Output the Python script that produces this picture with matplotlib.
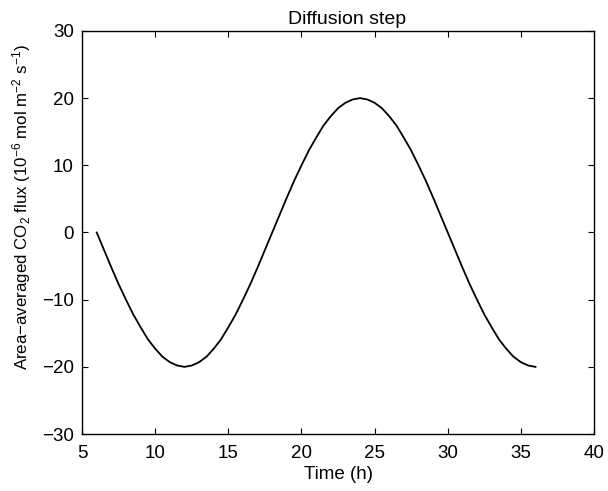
import matplotlib
matplotlib.use('Agg')
import matplotlib.pyplot as plt

# values, every half hour from 6 h to 36 h
time_h = [6 + 0.5 * i for i in range(61)]
flux = [0.0, -2.6, -5.2, -7.7, -10.0, -12.2, -14.1, -15.9, -17.3, -18.5, -19.3, -19.8,
        -20.0, -19.8, -19.3, -18.5, -17.3, -15.9, -14.1, -12.2, -10.0, -7.7, -5.2, -2.6,
        0.0, 2.6, 5.2, 7.7, 10.0, 12.2, 14.1, 15.9, 17.3, 18.5, 19.3, 19.8,
        20.0, 19.8, 19.3, 18.5, 17.3, 15.9, 14.1, 12.2, 10.0, 7.7, 5.2, 2.6,
        0.0, -2.6, -5.2, -7.7, -10.0, -12.2, -14.1, -15.9, -17.3, -18.5, -19.3, -19.8,
        -20.0]

x_ticks = [5, 10, 15, 20, 25, 30, 35, 40]
y_ticks = [-30, -20, -10, 0, 10, 20, 30]

plt.rcParams['font.family'] = ['Liberation Sans', 'DejaVu Sans']
plt.rcParams['font.size'] = 13.5
plt.rcParams['mathtext.fontset'] = 'custom'
plt.rcParams['mathtext.rm'] = 'Liberation Sans'
plt.rcParams['mathtext.it'] = 'Liberation Sans'

fig = plt.figure(figsize=(6.08, 4.91), dpi=100)
ax = fig.add_axes([0.135, 0.116, 0.842, 0.821])

ax.plot(time_h, flux, color='black', linewidth=1.3)

ax.set_xlim(5, 40)
ax.set_ylim(-30, 30)
ax.set_xticks(x_ticks)
ax.set_yticks(y_ticks)
ax.set_yticklabels(['\u221230', '\u221220', '\u221210', '0', '10', '20', '30'])
ax.tick_params(direction='in', top=True, right=True, length=4, width=0.8, pad=6)
ax.tick_params(axis='x', pad=8)
for s in ax.spines.values():
    s.set_linewidth(1.0)

ax.set_title('Diffusion step', fontsize=14, pad=5, x=0.518)
ax.set_xlabel('Time (h)', labelpad=3)
ax.set_ylabel('Area\u2212averaged CO$_2$ flux (10$^{\u22126}$ mol m$^{\u22122}$ s$^{\u22121}$)',
              fontsize=12.2)
ax.yaxis.set_label_coords(-0.096, 0.563)

plt.savefig('out.png', dpi=100)
